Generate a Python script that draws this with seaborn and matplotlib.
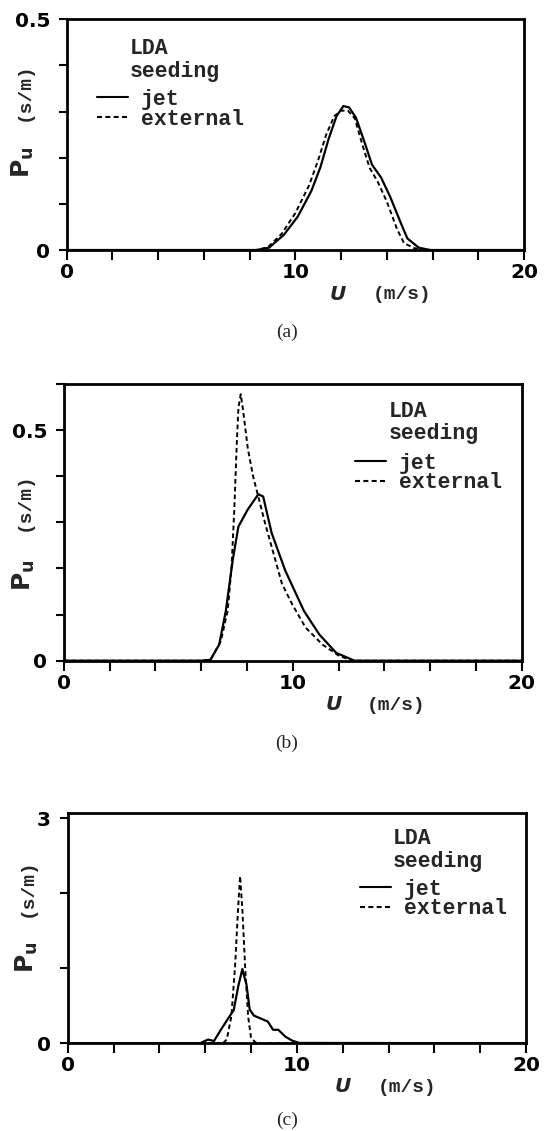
import matplotlib
matplotlib.use("Agg")
import matplotlib.pyplot as plt
import seaborn as sns

# ---------------- data ----------------
# panel (a)
u_a_jet = [0, 8.3, 8.85, 9.5, 10.1, 10.7, 11.1, 11.45, 11.8, 12.1, 12.35, 12.65,
           13.05, 13.35, 13.75, 14.15, 14.6, 14.9, 15.4, 15.9, 20]
p_a_jet = [0, 0, 0.005, 0.033, 0.072, 0.128, 0.18, 0.24, 0.29, 0.312, 0.309, 0.287,
           0.23, 0.185, 0.157, 0.115, 0.06, 0.025, 0.005, 0, 0]
u_a_ext = [0, 8.3, 8.8, 9.4, 10.0, 10.6, 11.0, 11.35, 11.7, 12.0, 12.3, 12.6,
           12.95, 13.25, 13.6, 14.0, 14.45, 14.75, 15.2, 15.7, 20]
p_a_ext = [0, 0, 0.006, 0.035, 0.08, 0.14, 0.195, 0.25, 0.29, 0.302, 0.302, 0.285,
           0.225, 0.178, 0.148, 0.105, 0.045, 0.015, 0.004, 0, 0]

# panel (b)
u_b_jet = [0, 6.0, 6.41, 6.79, 7.08, 7.38, 7.63, 8.04, 8.5, 8.71, 9.08, 9.67,
           10.49, 11.16, 11.9, 12.7, 20]
p_b_jet = [0, 0, 0.002, 0.035, 0.108, 0.218, 0.291, 0.328, 0.361, 0.356, 0.277, 0.196,
           0.108, 0.057, 0.017, 0, 0]
u_b_ext = [0, 6.0, 6.41, 6.86, 7.16, 7.33, 7.45, 7.56, 7.63, 7.73, 7.82, 8.04, 8.27,
           8.49, 8.79, 9.16, 9.53, 9.97, 10.56, 11.3, 12.04, 12.64, 20]
p_b_ext = [0, 0, 0.002, 0.042, 0.108, 0.204, 0.328, 0.474, 0.548, 0.578, 0.548, 0.46, 0.40,
           0.357, 0.299, 0.233, 0.167, 0.123, 0.072, 0.035, 0.01, 0, 0]

# panel (c)
u_c_jet = [0, 5.77, 6.12, 6.38, 6.68, 7.06, 7.24, 7.44, 7.62, 7.8, 7.94, 8.12,
           8.5, 8.73, 8.96, 9.19, 9.49, 9.8, 10.1, 20]
p_c_jet = [0, 0, 0.05, 0.03, 0.18, 0.36, 0.44, 0.76, 0.99, 0.78, 0.45, 0.37,
           0.32, 0.29, 0.18, 0.18, 0.09, 0.035, 0.005, 0]
u_c_ext = [0, 6.76, 6.94, 7.14, 7.3, 7.43, 7.52, 7.62, 7.74, 7.87, 8.0, 8.2, 8.35, 20]
p_c_ext = [0, 0, 0.05, 0.36, 1.02, 1.78, 2.23, 1.78, 1.02, 0.36, 0.07, 0.01, 0, 0]

x_ticks = [0, 2, 4, 6, 8, 10, 12, 14, 16, 18, 20]
x_tick_labels = ["0", "", "", "", "", "10", "", "", "", "", "20"]
y_ticks_a = [0, 0.1, 0.2, 0.3, 0.4, 0.5]
y_tick_labels_a = ["0", "", "", "", "", "0.5"]
y_ticks_b = [0, 0.1, 0.2, 0.3, 0.4, 0.5, 0.6]
y_tick_labels_b = ["0", "", "", "", "", "0.5", ""]
y_ticks_c = [0, 1, 2, 3]
y_tick_labels_c = ["0", "", "", "3"]
series_labels = ["jet", "external"]
legend_title = ["LDA", "seeding"]
captions = ["(a)", "(b)", "(c)"]

# ---------------- style ----------------
sns.set_theme(style="ticks")
plt.rcParams["font.family"] = ["DejaVu Sans"]
plt.rcParams["mathtext.fontset"] = "custom"
plt.rcParams["mathtext.bf"] = "DejaVu Sans:bold"
plt.rcParams["mathtext.rm"] = "DejaVu Sans:bold"

W, H = 546, 1131
fig = plt.figure(figsize=(W / 100, H / 100), dpi=100)
fig.patch.set_facecolor("white")


def fx(px):
    return px / W


def fy(py):
    return 1 - py / H


MONO = "Liberation Mono"

panels = [
    dict(box=(66.7, 19.3, 524, 250), ylim=(0, 0.5), yt=y_ticks_a, ytl=y_tick_labels_a,
         jet=(u_a_jet, p_a_jet), ext=(u_a_ext, p_a_ext),
         title_xy=(130, 49), title_dy=23, leg_xy=(96.7, 100), leg_dy=22,
         pu_xy=(23, 162), sm_xy=(24, 92), U_xy=(338, 295), ms_xy=(402, 295),
         cap_xy=(287, 332)),
    dict(box=(63.7, 384, 521.7, 660.7), ylim=(0, 0.6), yt=y_ticks_b, ytl=y_tick_labels_b,
         jet=(u_b_jet, p_b_jet), ext=(u_b_ext, p_b_ext),
         title_xy=(389, 412), title_dy=21.5, leg_xy=(354.8, 463), leg_dy=21,
         pu_xy=(24, 575), sm_xy=(24, 502), U_xy=(334, 705), ms_xy=(396, 705),
         cap_xy=(287, 743)),
    dict(box=(67.8, 813, 526, 1043.3), ylim=(0, 3.07), yt=y_ticks_c, ytl=y_tick_labels_c,
         jet=(u_c_jet, p_c_jet), ext=(u_c_ext, p_c_ext),
         title_xy=(393, 838), title_dy=24, leg_xy=(360, 890), leg_dy=23,
         pu_xy=(27, 957), sm_xy=(27, 888), U_xy=(343, 1087), ms_xy=(407, 1087),
         cap_xy=(287, 1120)),
]

dash = (0, (2.4, 1.6))

for i, p in enumerate(panels):
    l, t, r, b = p["box"]
    ax = fig.add_axes([fx(l), fy(b), (r - l) / W, (b - t) / H])
    ax.set_facecolor("white")

    sns.lineplot(x=p["jet"][0], y=p["jet"][1], ax=ax, color="black", lw=1.6,
                 estimator=None, sort=False, label=series_labels[0])
    sns.lineplot(x=p["ext"][0], y=p["ext"][1], ax=ax, color="black", lw=1.4,
                 linestyle=dash, estimator=None, sort=False, label=series_labels[1])

    ax.set_xlim(0, 20)
    ax.set_ylim(*p["ylim"])
    ax.set_xticks(x_ticks)
    ax.set_xticklabels(x_tick_labels)
    ax.set_yticks(p["yt"])
    ax.set_yticklabels(p["ytl"])
    ax.set_xlabel("")
    ax.set_ylabel("")
    for s in ax.spines.values():
        s.set_visible(True)
        s.set_linewidth(2.0)
        s.set_color("black")
    ax.tick_params(axis="x", direction="out", length=7, width=1.5, pad=2.5,
                   labelsize=14.5, colors="black")
    ax.tick_params(axis="y", direction="out", length=6, width=1.5, pad=6,
                   labelsize=14.5, colors="black")
    for lab in ax.get_xticklabels() + ax.get_yticklabels():
        lab.set_fontweight("bold")

    # legend (line samples + labels)
    handles, labels = ax.get_legend_handles_labels()
    row_h = p["leg_dy"]
    leg = ax.legend(handles, labels, loc="upper left",
                    bbox_to_anchor=(fx(p["leg_xy"][0]), fy(p["leg_xy"][1] - row_h / 2)),
                    bbox_transform=fig.transFigure, frameon=False,
                    prop=dict(family=MONO, weight="bold", size=15.5),
                    handlelength=1.45, handletextpad=0.6, labelspacing=-0.05,
                    borderpad=0, borderaxespad=0)
    for h in leg.get_lines():
        h.set_linewidth(1.5)

    # legend title
    tx, ty = p["title_xy"]
    for k, line in enumerate(legend_title):
        fig.text(fx(tx), fy(ty + k * p["title_dy"]), line, family=MONO,
                 weight="bold", fontsize=15.5, ha="left", va="center")

    # y label: P_u (s/m)
    fig.text(fx(p["pu_xy"][0]), fy(p["pu_xy"][1]), r"$\mathbf{P}_{\mathbf{u}}$",
             rotation=90, fontsize=18, ha="center", va="center")
    fig.text(fx(p["sm_xy"][0]), fy(p["sm_xy"][1]), "(s/m)", family=MONO,
             weight="bold", fontsize=14, rotation=90, ha="center", va="center")

    # x label: U (m/s)
    fig.text(fx(p["U_xy"][0]), fy(p["U_xy"][1]), "U", fontsize=14.5, weight="bold",
             style="italic", ha="center", va="center")
    fig.text(fx(p["ms_xy"][0]), fy(p["ms_xy"][1]), "(m/s)", family=MONO,
             weight="bold", fontsize=14, ha="center", va="center")

    # caption
    fig.text(fx(p["cap_xy"][0]), fy(p["cap_xy"][1]), captions[i],
             family="Liberation Serif", fontsize=14, ha="center", va="center")

fig.savefig("out.png", dpi=100, facecolor="white")
